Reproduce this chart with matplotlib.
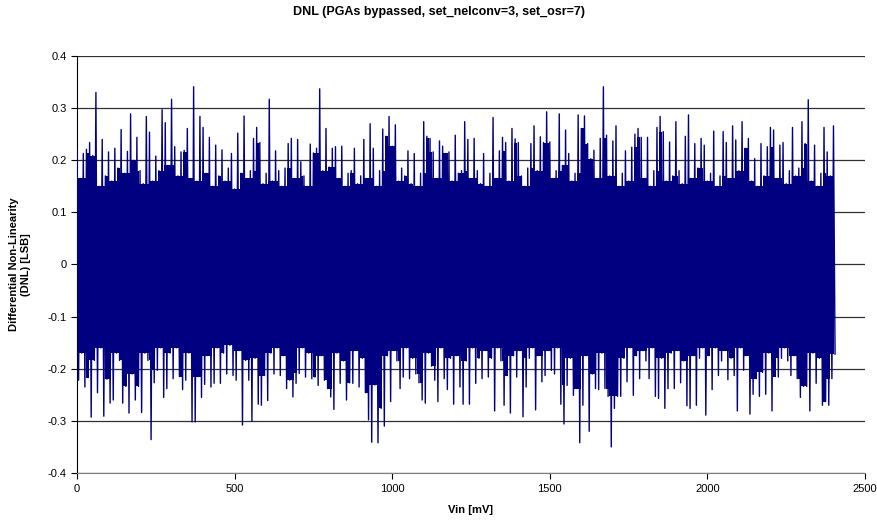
import numpy as np
import matplotlib
matplotlib.use("Agg")
import matplotlib.pyplot as plt

plt.rcParams['font.family'] = ['Liberation Sans', 'DejaVu Sans']

# Upper excursion of the DNL trace in each 10 mV slice (0 ... 2400 mV)
dnl_upper = [
    0.219, 0.165, 0.213, 0.221, 0.234, 0.209, 0.330, 0.150, 0.240, 0.170,
    0.216, 0.160, 0.223, 0.185, 0.259, 0.175, 0.217, 0.289, 0.200, 0.244,
    0.180, 0.155, 0.284, 0.254, 0.160, 0.208, 0.180, 0.297, 0.272, 0.190,
    0.317, 0.226, 0.170, 0.216, 0.219, 0.261, 0.165, 0.341, 0.160, 0.284,
    0.263, 0.175, 0.244, 0.150, 0.229, 0.170, 0.220, 0.160, 0.185, 0.213,
    0.145, 0.252, 0.175, 0.285, 0.165, 0.180, 0.242, 0.263, 0.234, 0.155,
    0.175, 0.317, 0.160, 0.218, 0.180, 0.150, 0.185, 0.232, 0.242, 0.165,
    0.240, 0.197, 0.170, 0.150, 0.231, 0.214, 0.223, 0.337, 0.180, 0.261,
    0.187, 0.223, 0.226, 0.165, 0.227, 0.150, 0.175, 0.180, 0.223, 0.155,
    0.170, 0.240, 0.165, 0.270, 0.223, 0.150, 0.180, 0.260, 0.246, 0.284,
    0.227, 0.268, 0.160, 0.185, 0.170, 0.218, 0.155, 0.213, 0.150, 0.175,
    0.274, 0.246, 0.242, 0.216, 0.165, 0.237, 0.227, 0.213, 0.216, 0.160,
    0.248, 0.175, 0.180, 0.274, 0.240, 0.165, 0.242, 0.180, 0.155, 0.213,
    0.150, 0.175, 0.282, 0.165, 0.218, 0.244, 0.234, 0.160, 0.261, 0.241,
    0.234, 0.170, 0.150, 0.185, 0.232, 0.266, 0.180, 0.245, 0.234, 0.293,
    0.235, 0.165, 0.180, 0.289, 0.190, 0.258, 0.213, 0.160, 0.175, 0.287,
    0.261, 0.285, 0.232, 0.203, 0.219, 0.165, 0.242, 0.341, 0.248, 0.170,
    0.237, 0.266, 0.150, 0.175, 0.218, 0.160, 0.225, 0.250, 0.261, 0.244,
    0.165, 0.244, 0.150, 0.180, 0.263, 0.284, 0.255, 0.160, 0.235, 0.170,
    0.274, 0.180, 0.155, 0.246, 0.287, 0.165, 0.232, 0.185, 0.242, 0.229,
    0.160, 0.175, 0.256, 0.150, 0.170, 0.255, 0.234, 0.165, 0.266, 0.239,
    0.180, 0.274, 0.223, 0.242, 0.160, 0.203, 0.150, 0.232, 0.170, 0.226,
    0.263, 0.258, 0.165, 0.229, 0.234, 0.155, 0.180, 0.263, 0.170, 0.185,
    0.274, 0.232, 0.316, 0.160, 0.229, 0.150, 0.175, 0.263, 0.216, 0.170,
    0.266,
]

# Lower excursion of the DNL trace in each 10 mV slice (0 ... 2400 mV)
dnl_lower = [
    -0.222, -0.170, -0.235, -0.217, -0.293, -0.184, -0.246, -0.160, -0.291, -0.220,
    -0.266, -0.260, -0.170, -0.184, -0.266, -0.234, -0.285, -0.210, -0.260, -0.234,
    -0.284, -0.170, -0.184, -0.336, -0.227, -0.203, -0.160, -0.255, -0.238, -0.170,
    -0.219, -0.160, -0.215, -0.240, -0.222, -0.170, -0.302, -0.302, -0.215, -0.255,
    -0.230, -0.175, -0.235, -0.228, -0.160, -0.228, -0.170, -0.210, -0.155, -0.213,
    -0.222, -0.165, -0.308, -0.184, -0.222, -0.301, -0.180, -0.268, -0.270, -0.213,
    -0.261, -0.170, -0.210, -0.160, -0.213, -0.175, -0.238, -0.222, -0.254, -0.228,
    -0.209, -0.160, -0.216, -0.170, -0.219, -0.216, -0.232, -0.175, -0.222, -0.238,
    -0.254, -0.278, -0.170, -0.228, -0.185, -0.260, -0.227, -0.228, -0.165, -0.235,
    -0.180, -0.246, -0.298, -0.341, -0.231, -0.342, -0.276, -0.310, -0.175, -0.263,
    -0.165, -0.185, -0.238, -0.216, -0.160, -0.219, -0.180, -0.210, -0.227, -0.260,
    -0.266, -0.170, -0.195, -0.222, -0.263, -0.160, -0.219, -0.240, -0.180, -0.268,
    -0.175, -0.235, -0.268, -0.185, -0.268, -0.160, -0.228, -0.180, -0.219, -0.165,
    -0.216, -0.180, -0.281, -0.160, -0.185, -0.270, -0.213, -0.285, -0.175, -0.216,
    -0.165, -0.292, -0.235, -0.180, -0.160, -0.279, -0.175, -0.225, -0.213, -0.165,
    -0.203, -0.210, -0.160, -0.268, -0.306, -0.232, -0.180, -0.251, -0.238, -0.342,
    -0.270, -0.175, -0.320, -0.210, -0.238, -0.240, -0.170, -0.238, -0.253, -0.350,
    -0.276, -0.253, -0.253, -0.180, -0.225, -0.160, -0.251, -0.175, -0.219, -0.165,
    -0.185, -0.219, -0.160, -0.253, -0.257, -0.180, -0.276, -0.238, -0.170, -0.238,
    -0.165, -0.227, -0.185, -0.271, -0.276, -0.175, -0.270, -0.180, -0.160, -0.289,
    -0.175, -0.240, -0.160, -0.213, -0.185, -0.165, -0.221, -0.180, -0.213, -0.281,
    -0.160, -0.203, -0.175, -0.287, -0.249, -0.219, -0.253, -0.207, -0.249, -0.170,
    -0.281, -0.215, -0.216, -0.180, -0.160, -0.185, -0.213, -0.175, -0.219, -0.255,
    -0.234, -0.234, -0.281, -0.170, -0.228, -0.180, -0.270, -0.263, -0.270, -0.219,
    -0.172,
]

vin_step = 10  # mV per slice
title = "DNL (PGAs bypassed, set_nelconv=3, set_osr=7)"
xlabel = "Vin [mV]"
ylabel = "Differential Non-Linearity\n(DNL) [LSB]"
xticks = [0, 500, 1000, 1500, 2000, 2500]
yticks = [-0.4, -0.3, -0.2, -0.1, 0, 0.1, 0.2, 0.3, 0.4]
ytick_labels = ["-0.4", "-0.3", "-0.2", "-0.1", "0", "0.1", "0.2", "0.3", "0.4"]

# Interleave upper and lower excursions into one trace
up = np.array(dnl_upper)
lo = np.array(dnl_lower)
n = len(up)
vin_up = np.arange(n) * vin_step
vin = np.empty(2 * n)
dnl = np.empty(2 * n)
vin[0::2] = vin_up
vin[1::2] = vin_up + vin_step / 2
dnl[0::2] = up
dnl[1::2] = lo

# Solid band where the dense trace overlaps itself: bounded by the smaller
# excursions of neighbouring slices, so its edge stays ragged
pad_up = np.concatenate([[up[0]], up, [up[-1]]])
pad_lo = np.concatenate([[lo[0]], lo, [lo[-1]]])
band_hi = np.minimum(np.minimum(pad_up[:-2], pad_up[1:-1]), pad_up[2:])
band_lo = np.maximum(np.maximum(pad_lo[:-2], pad_lo[1:-1]), pad_lo[2:])

fig = plt.figure(figsize=(8.78, 5.23), dpi=100)
ax = fig.add_axes([77 / 878, 1 - 473 / 523, (865 - 77) / 878, (473 - 56) / 523])

navy = "#000080"
ax.fill_between(vin_up + vin_step / 4, band_lo, band_hi, step="mid",
                color=navy, lw=0, zorder=3)
ax.plot(vin, dnl, color=navy, lw=1.0, zorder=4)

ax.set_xlim(0, 2500)
ax.set_ylim(-0.4, 0.4)
ax.set_xticks(xticks)
ax.set_yticks(yticks)
ax.set_yticklabels(ytick_labels)
ax.yaxis.grid(True, color="#303030", lw=0.9)
ax.set_axisbelow(True)
for s in ["top", "right"]:
    ax.spines[s].set_visible(False)
ax.spines["bottom"].set_color("#808080")
ax.spines["left"].set_color("black")
ax.tick_params(axis="both", labelsize=8, length=4, width=0.8, direction="out", color="black")
ax.tick_params(axis="x", pad=4)

ax.set_xlabel(xlabel, fontsize=8, fontweight="bold", labelpad=8)
ax.set_ylabel(ylabel, fontsize=8, fontweight="bold", labelpad=12)
fig.text(0.5, 1 - 12 / 523, title, ha="center", va="center", fontsize=9, fontweight="bold")

fig.savefig("out.png", dpi=100)
